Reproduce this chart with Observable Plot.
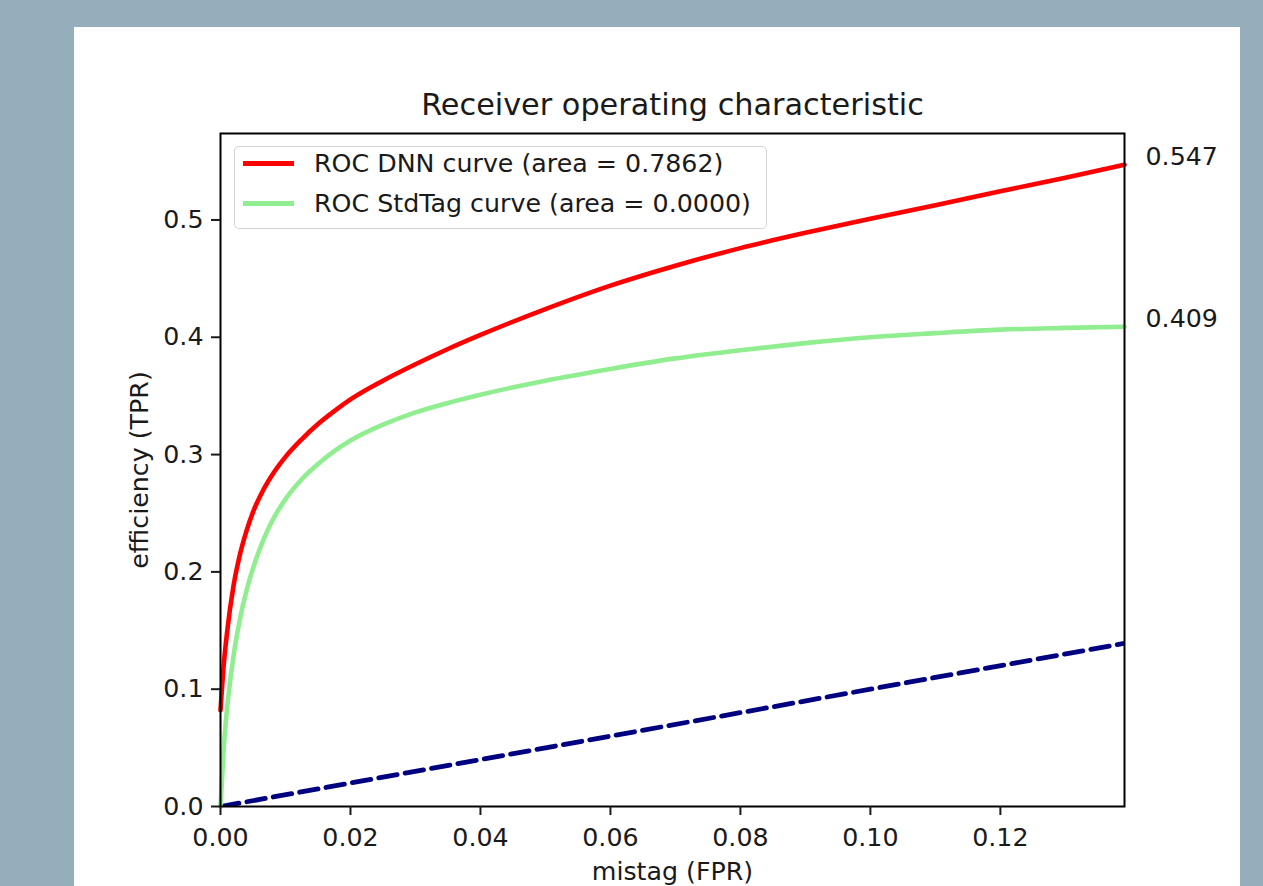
<!DOCTYPE html>
<html>
<head>
<meta charset="utf-8">
<script src="https://cdn.jsdelivr.net/npm/d3@7"></script>
<script src="https://cdn.jsdelivr.net/npm/@observablehq/plot@0.6"></script>
<style>
  html, body { margin: 0; padding: 0; }
  body { background: #96adbb; width: 1263px; height: 886px; overflow: hidden; position: relative; font-family: "DejaVu Sans", sans-serif; }
  #panel { position: absolute; left: 74px; top: 27px; width: 1166px; height: 859px; background: #ffffff; }
  #chart { position: absolute; left: 0; top: 0; }
  #legend { position: absolute; left: 160px; top: 119px; width: 531px; height: 81px;
            border: 1.5px solid #d4d4d4; border-radius: 5px; background: rgba(255,255,255,0.8); }
  .row { position: absolute; left: 0; height: 40px; display: flex; align-items: center; font-size: 25.3px; color: #1a1a1a; white-space: nowrap; }
  .sw { width: 51px; height: 5px; margin-left: 8px; margin-right: 20px; }
</style>
</head>
<body>
<div id="panel">
  <div id="chart"></div>
  <div id="legend"></div>
</div>
<script>
// ---- data ----
const titleText = "Receiver operating characteristic";
const xLabel = "mistag (FPR)";
const yLabel = "efficiency (TPR)";

const seriesNames = ["ROC DNN curve (area = 0.7862)", "ROC StdTag curve (area = 0.0000)"];
const seriesColors = ["#ff0000", "#90ee90"];

const fprDNN = [0, 0.0005, 0.001, 0.002, 0.003, 0.004, 0.005, 0.0065, 0.008, 0.01, 0.0125, 0.015, 0.0175, 0.02, 0.025, 0.03, 0.035, 0.04, 0.05, 0.06, 0.07, 0.08, 0.09, 0.10, 0.11, 0.12, 0.13, 0.1391];
const tprDNN = [0.082, 0.121, 0.148, 0.188, 0.215, 0.235, 0.251, 0.269, 0.283, 0.298, 0.313, 0.326, 0.337, 0.347, 0.363, 0.377, 0.390, 0.402, 0.424, 0.444, 0.461, 0.476, 0.489, 0.501, 0.5125, 0.5245, 0.536, 0.547];

const fprStd = [0, 0.0005, 0.001, 0.002, 0.003, 0.004, 0.005, 0.0065, 0.008, 0.01, 0.0125, 0.015, 0.0175, 0.02, 0.025, 0.03, 0.035, 0.04, 0.05, 0.06, 0.07, 0.08, 0.09, 0.10, 0.11, 0.12, 0.13, 0.1391];
const tprStd = [0, 0.05, 0.083, 0.128, 0.160, 0.184, 0.203, 0.226, 0.244, 0.262, 0.279, 0.292, 0.303, 0.312, 0.3255, 0.336, 0.344, 0.351, 0.363, 0.373, 0.382, 0.389, 0.395, 0.400, 0.4035, 0.4065, 0.408, 0.409];

const diagX = [0, 1];
const diagY = [0, 1];

const xTicks = [0, 0.02, 0.04, 0.06, 0.08, 0.10, 0.12];
const yTicks = [0, 0.1, 0.2, 0.3, 0.4, 0.5];
const xDomain = [0, 0.1391];
const yDomain = [0, 0.5737];

// ---- build tables ----
const dnn = fprDNN.map((x, i) => ({x, y: tprDNN[i]}));
const std = fprStd.map((x, i) => ({x, y: tprStd[i]}));
const diag = diagX.map((x, i) => ({x, y: diagY[i]}));
const ends = [dnn[dnn.length - 1], std[std.length - 1]];

const font = "'DejaVu Sans', sans-serif";

const chart = Plot.plot({
  width: 1166,
  height: 859,
  marginLeft: 146,
  marginRight: 116,
  marginTop: 106,
  marginBottom: 80,
  style: {background: "transparent", fontFamily: font, fontSize: "25.3px", color: "#1a1a1a", overflow: "visible"},
  x: {domain: xDomain},
  y: {domain: yDomain},
  marks: [
    Plot.line(diag, {x: "x", y: "y", stroke: "#000080", strokeWidth: 4.8, strokeDasharray: "18.7,8.1", clip: true}),
    Plot.line(dnn, {x: "x", y: "y", stroke: seriesColors[0], strokeWidth: 4.6, curve: "monotone-x"}),
    Plot.line(std, {x: "x", y: "y", stroke: seriesColors[1], strokeWidth: 4.6, curve: "monotone-x"}),
    Plot.frame({stroke: "#000000", strokeWidth: 2}),
    Plot.axisX({ticks: xTicks, tickFormat: d3.format(".2f"), tickSize: 9, tickPadding: 13, strokeWidth: 2, label: null, fontSize: 25.3}),
    Plot.axisY({ticks: yTicks, tickFormat: d3.format(".1f"), tickSize: 9, tickPadding: 8, strokeWidth: 2, label: null, fontSize: 25.3}),
    Plot.text(ends, {x: "x", y: "y", text: d => d3.format(".3f")(d.y), textAnchor: "start", lineAnchor: "bottom", dx: 21, fontSize: 25.3}),
    Plot.text([titleText], {text: d => d, frameAnchor: "top", lineAnchor: "bottom", dy: -19, fontSize: 30.3}),
    Plot.text([xLabel], {text: d => d, frameAnchor: "bottom", lineAnchor: "middle", dy: 65, fontSize: 25.3}),
    Plot.text([yLabel], {text: d => d, frameAnchor: "left", lineAnchor: "middle", textAnchor: "middle", rotate: -90, dx: -81, fontSize: 25.3})
  ]
});
document.getElementById("chart").appendChild(chart);

// ---- legend ----
const legend = document.getElementById("legend");
seriesNames.forEach((name, i) => {
  const row = document.createElement("div");
  row.className = "row";
  row.style.top = (-4 + 40 * i) + "px";
  const sw = document.createElement("div");
  sw.className = "sw";
  sw.style.background = seriesColors[i];
  const t = document.createElement("span");
  t.textContent = name;
  row.appendChild(sw);
  row.appendChild(t);
  legend.appendChild(row);
});
</script>
</body>
</html>
